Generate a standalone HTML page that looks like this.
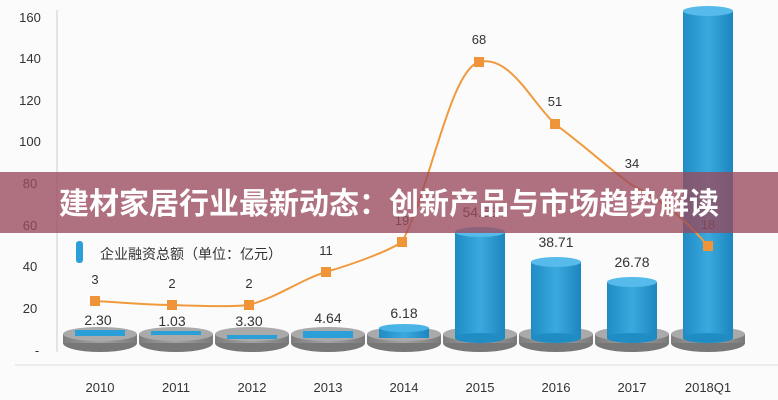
<!DOCTYPE html><html><head><meta charset="utf-8"><style>body{margin:0;background:#fff}svg{display:block}</style></head><body>
<svg width="778" height="400" viewBox="0 0 778 400" font-family="Liberation Sans, Noto Sans CJK SC, sans-serif">
<defs>
<linearGradient id="cy" x1="0" x2="1"><stop offset="0" stop-color="#1f8cc4"/><stop offset=".5" stop-color="#3aa9de"/><stop offset="1" stop-color="#1c86be"/></linearGradient>
<linearGradient id="gd" x1="0" x2="1"><stop offset="0" stop-color="#7d7d7d"/><stop offset=".5" stop-color="#a3a3a3"/><stop offset="1" stop-color="#7a7a7a"/></linearGradient>
</defs>
<rect width="778" height="400" fill="#fbfbfb"/>
<line x1="57" y1="10" x2="57" y2="352" stroke="#ccc"/>
<line x1="15" y1="365" x2="778" y2="365" stroke="#ddd"/>
<g font-size="13" fill="#333" text-anchor="middle">
<text x="30" y="22">160</text><text x="30" y="63">140</text><text x="30" y="105">120</text><text x="30" y="146">100</text><text x="30" y="188">80</text><text x="30" y="230">60</text><text x="30" y="271">40</text><text x="30" y="313">20</text><text x="37" y="355">-</text>
</g>
<g font-size="13" fill="#333" text-anchor="middle">
<text x="100" y="392">2010</text><text x="176" y="392">2011</text><text x="252" y="392">2012</text><text x="328" y="392">2013</text><text x="404" y="392">2014</text><text x="480" y="392">2015</text><text x="556" y="392">2016</text><text x="632" y="392">2017</text><text x="708" y="392">2018Q1</text>
</g>
<g>
<g transform="translate(100,0)"><ellipse cx="0" cy="343" rx="37" ry="9" fill="#777"/><rect x="-37" y="334" width="74" height="9" fill="url(#gd)"/><ellipse cx="0" cy="334" rx="37" ry="7" fill="#aaa"/><rect x="-25" y="330" width="50" height="6" fill="#2a9fd8"/></g>
<g transform="translate(176,0)"><ellipse cx="0" cy="343" rx="37" ry="9" fill="#777"/><rect x="-37" y="334" width="74" height="9" fill="url(#gd)"/><ellipse cx="0" cy="334" rx="37" ry="7" fill="#aaa"/><rect x="-25" y="331" width="50" height="4" fill="#2a9fd8"/></g>
<g transform="translate(252,0)"><ellipse cx="0" cy="343" rx="37" ry="9" fill="#777"/><rect x="-37" y="334" width="74" height="9" fill="url(#gd)"/><ellipse cx="0" cy="334" rx="37" ry="7" fill="#aaa"/><rect x="-25" y="335" width="50" height="4" fill="#2a9fd8"/></g>
<g transform="translate(328,0)"><ellipse cx="0" cy="343" rx="37" ry="9" fill="#777"/><rect x="-37" y="334" width="74" height="9" fill="url(#gd)"/><ellipse cx="0" cy="334" rx="37" ry="7" fill="#aaa"/><rect x="-25" y="331" width="50" height="7" fill="#2a9fd8"/></g>
<g transform="translate(404,0)"><ellipse cx="0" cy="343" rx="37" ry="9" fill="#777"/><rect x="-37" y="334" width="74" height="9" fill="url(#gd)"/><ellipse cx="0" cy="334" rx="37" ry="7" fill="#aaa"/><rect x="-25" y="328" width="50" height="10" fill="url(#cy)"/><ellipse cx="0" cy="328" rx="25" ry="4" fill="#4ab4e6"/></g>
<g transform="translate(480,0)"><ellipse cx="0" cy="343" rx="37" ry="9" fill="#777"/><rect x="-37" y="334" width="74" height="9" fill="url(#gd)"/><ellipse cx="0" cy="334" rx="37" ry="7" fill="#aaa"/><rect x="-25" y="232" width="50" height="106" fill="url(#cy)"/><ellipse cx="0" cy="338" rx="25" ry="5" fill="#1f8cc4"/><ellipse cx="0" cy="232" rx="25" ry="5" fill="#56bbea"/></g>
<g transform="translate(556,0)"><ellipse cx="0" cy="343" rx="37" ry="9" fill="#777"/><rect x="-37" y="334" width="74" height="9" fill="url(#gd)"/><ellipse cx="0" cy="334" rx="37" ry="7" fill="#aaa"/><rect x="-25" y="262" width="50" height="76" fill="url(#cy)"/><ellipse cx="0" cy="338" rx="25" ry="5" fill="#1f8cc4"/><ellipse cx="0" cy="262" rx="25" ry="5" fill="#56bbea"/></g>
<g transform="translate(632,0)"><ellipse cx="0" cy="343" rx="37" ry="9" fill="#777"/><rect x="-37" y="334" width="74" height="9" fill="url(#gd)"/><ellipse cx="0" cy="334" rx="37" ry="7" fill="#aaa"/><rect x="-25" y="282" width="50" height="56" fill="url(#cy)"/><ellipse cx="0" cy="338" rx="25" ry="5" fill="#1f8cc4"/><ellipse cx="0" cy="282" rx="25" ry="5" fill="#56bbea"/></g>
<g transform="translate(708,0)"><ellipse cx="0" cy="343" rx="37" ry="9" fill="#777"/><rect x="-37" y="334" width="74" height="9" fill="url(#gd)"/><ellipse cx="0" cy="334" rx="37" ry="7" fill="#aaa"/><rect x="-25" y="11" width="50" height="327" fill="url(#cy)"/><ellipse cx="0" cy="338" rx="25" ry="5" fill="#1f8cc4"/><ellipse cx="0" cy="11" rx="25" ry="5" fill="#56bbea"/></g>
</g>
<path d="M95,301 C130,303 150,305 172,305 C200,306 230,307 249,305 C280,296 300,280 326,272 C360,262 390,250 402,242 C430,190 450,70 479,62 C510,55 530,100 555,124 C590,150 610,170 632,185 C670,205 690,225 708,246" fill="none" stroke="#f09a3e" stroke-width="2"/>
<g fill="#f0943a"><rect x="90" y="296" width="10" height="10"/><rect x="167" y="300" width="10" height="10"/><rect x="244" y="300" width="10" height="10"/><rect x="321" y="267" width="10" height="10"/><rect x="397" y="237" width="10" height="10"/><rect x="474" y="57" width="10" height="10"/><rect x="550" y="119" width="10" height="10"/><rect x="703" y="241" width="10" height="10"/></g>
<g font-size="13" fill="#333" text-anchor="middle">
<text x="95" y="284">3</text><text x="172" y="288">2</text><text x="249" y="288">2</text><text x="326" y="255">11</text><text x="402" y="225">19</text><text x="479" y="44">68</text><text x="555" y="106">51</text><text x="632" y="168">34</text><text x="708" y="229">18</text>
</g>
<g font-size="14" fill="#333" text-anchor="middle">
<text x="98" y="325">2.30</text><text x="172" y="326">1.03</text><text x="249" y="326">3.30</text><text x="328" y="323">4.64</text><text x="404" y="318">6.18</text><text x="480" y="217">54.55</text><text x="556" y="247">38.71</text><text x="632" y="267">26.78</text>
</g>
<rect x="76" y="241" width="7" height="22" rx="3" fill="#2a9fd8"/>
<text x="100" y="259" font-size="14" fill="#333">企业融资总额（单位：亿元）</text>
<rect x="0" y="172" width="778" height="61" fill="#9a4a5c" opacity="0.78"/>
<text x="389" y="214" font-size="30" font-weight="bold" fill="#fff" text-anchor="middle">建材家居行业最新动态：创新产品与市场趋势解读</text>
</svg>
</body></html>
